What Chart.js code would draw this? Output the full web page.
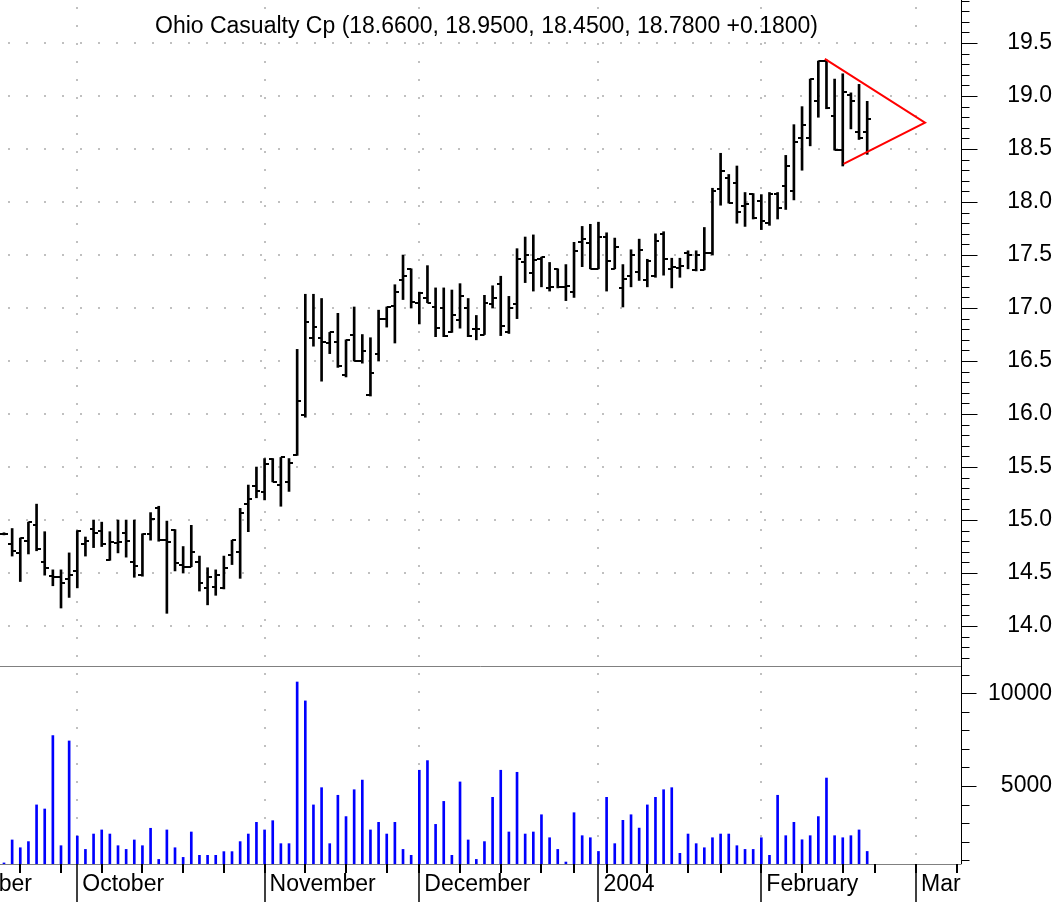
<!DOCTYPE html>
<html>
<head>
<meta charset="utf-8">
<script src="https://cdn.jsdelivr.net/npm/chart.js@4.4.1/dist/chart.umd.min.js"></script>
<style>
  html, body { margin: 0; padding: 0; background: #fff; }
</style>
</head>
<body>
<canvas id="ohlcChart" width="1061" height="902"></canvas>
<script>
// Daily bars for Ohio Casualty Cp, index 0 = 2003-09-18 (trading days)
const titleText = 'Ohio Casualty Cp (18.6600, 18.9500, 18.4500, 18.7800 +0.1800)';

const monthStarts = [-11, 9, 32, 51, 73, 93, 112];
const monthLabels = ['September', 'October', 'November', 'December', '2004', 'February', 'Mar'];
const weekStarts = [2, 7, 12, 17, 22, 27, 32, 37, 42, 47, 51, 56, 61, 66, 70, 74, 79, 84, 88, 93, 98, 103, 107, 112, 117];

const priceTicks = [14.0, 14.5, 15.0, 15.5, 16.0, 16.5, 17.0, 17.5, 18.0, 18.5, 19.0, 19.5];
const volumeTicks = [5000, 10000];

const opens = [
  14.87, 14.77, 14.69, 14.80, 14.95, 14.60, 14.47, 14.46, 14.44, 14.52,
  14.77, 14.92, 14.90, 14.62, 14.78, 14.88, 14.60, 14.48, 14.87, 15.11,
  14.81, 14.91, 14.58, 14.56, 14.60, 14.36, 14.37, 14.36, 14.67, 14.70,
  15.15, 15.32, 15.26, 15.58, 15.33, 15.36, 15.61, 15.99, 16.72, 16.72,
  16.67, 16.68, 16.37, 16.75, 16.50, 16.18, 16.57, 16.90, 17.02, 17.26,
  17.37, 17.05, 17.09, 17.01, 17.00, 16.77, 16.89, 17.00, 16.80, 16.75,
  17.04, 17.23, 16.77, 17.04, 17.43, 17.33, 17.46, 17.19, 17.37, 17.20,
  17.15, 17.62, 17.61, 17.37, 17.67, 17.37, 17.19, 17.30, 17.34, 17.26,
  17.30, 17.70, 17.37, 17.38, 17.52, 17.36, 17.36, 17.52, 18.12, 18.23,
  18.18, 17.96, 18.08, 18.01, 17.80, 18.08, 18.15, 18.10, 18.60, 18.60,
  18.95, 19.33, 18.81, 18.49, 19.01, 18.66, 18.66
];
const highs = [
  14.88, 14.92, 14.83, 14.98, 15.15, 14.89, 14.53, 14.53, 14.69, 14.90,
  14.84, 15.00, 14.98, 14.89, 15.00, 15.00, 15.00, 14.87, 15.07, 15.13,
  14.99, 14.91, 14.75, 14.95, 14.66, 14.55, 14.53, 14.66, 14.81, 15.11,
  15.33, 15.50, 15.58, 15.58, 15.59, 15.58, 16.61, 17.13, 17.13, 17.09,
  16.77, 16.95, 16.70, 17.01, 16.75, 16.72, 16.98, 17.01, 17.22, 17.50,
  17.37, 17.15, 17.40, 17.19, 17.19, 17.17, 17.23, 17.09, 16.93, 17.12,
  17.21, 17.30, 17.11, 17.56, 17.67, 17.69, 17.48, 17.43, 17.37, 17.41,
  17.62, 17.77, 17.79, 17.81, 17.71, 17.66, 17.41, 17.55, 17.65, 17.46,
  17.70, 17.72, 17.47, 17.47, 17.54, 17.54, 17.76, 18.13, 18.46, 18.26,
  18.34, 18.09, 18.08, 18.07, 18.09, 18.09, 18.44, 18.73, 18.90, 19.16,
  19.33, 19.34, 19.16, 19.21, 19.03, 19.11, 18.95
];
const lows = [
  14.86, 14.66, 14.42, 14.68, 14.71, 14.48, 14.38, 14.17, 14.27, 14.36,
  14.66, 14.74, 14.75, 14.62, 14.69, 14.65, 14.46, 14.47, 14.81, 14.80,
  14.12, 14.52, 14.50, 14.56, 14.33, 14.20, 14.29, 14.35, 14.58, 14.45,
  14.89, 15.21, 15.19, 15.36, 15.13, 15.27, 15.61, 15.97, 16.64, 16.31,
  16.57, 16.44, 16.35, 16.50, 16.48, 16.17, 16.50, 16.82, 16.67, 17.08,
  17.00, 16.85, 17.05, 16.73, 16.73, 16.77, 16.81, 16.73, 16.70, 16.75,
  17.00, 16.74, 16.76, 16.90, 17.24, 17.16, 17.20, 17.16, 17.19, 17.07,
  17.10, 17.39, 17.37, 17.37, 17.16, 17.37, 17.01, 17.20, 17.26, 17.20,
  17.29, 17.31, 17.19, 17.29, 17.37, 17.35, 17.36, 17.50, 17.97, 17.99,
  17.80, 17.77, 17.84, 17.74, 17.78, 17.84, 17.93, 18.02, 18.30, 18.53,
  18.80, 18.88, 18.49, 18.34, 18.69, 18.59, 18.45
];
const closes = [
  14.87, 14.71, 14.83, 14.98, 14.73, 14.55, 14.46, 14.41, 14.48, 14.90,
  14.80, 14.88, 14.77, 14.79, 14.79, 14.80, 14.57, 14.87, 15.01, 14.81,
  14.79, 14.59, 14.56, 14.70, 14.41, 14.46, 14.48, 14.55, 14.81, 15.07,
  15.20, 15.27, 15.53, 15.36, 15.59, 15.54, 16.12, 16.87, 16.82, 16.68,
  16.77, 16.45, 16.70, 16.50, 16.59, 16.39, 16.90, 17.01, 17.15, 17.30,
  17.06, 17.14, 17.05, 16.81, 16.74, 16.93, 17.11, 16.74, 16.80, 17.05,
  17.09, 16.83, 17.00, 17.46, 17.50, 17.45, 17.48, 17.20, 17.20, 17.21,
  17.54, 17.65, 17.37, 17.67, 17.44, 17.58, 17.27, 17.50, 17.55, 17.44,
  17.63, 17.46, 17.39, 17.40, 17.50, 17.50, 17.52, 18.10, 18.29, 17.99,
  17.91, 17.98, 17.85, 17.82, 18.08, 17.94, 18.34, 18.57, 18.73, 19.16,
  19.33, 18.89, 18.49, 19.04, 18.95, 18.60, 18.78
];
const volumes = [
  850, 2090, 1670, 2000, 3980, 3760, 7720, 1780, 7430, 2300,
  1580, 2410, 2630, 2410, 1780, 1580, 2090, 1780, 2720, 1040,
  2630, 1670, 1150, 2520, 1260, 1260, 1260, 1460, 1460, 2000,
  2410, 3040, 2630, 3130, 1890, 1890, 10610, 9590, 3980, 4910,
  1890, 4500, 3350, 4800, 5320, 2630, 3040, 2410, 3040, 1580,
  1260, 5850, 6370, 2930, 4170, 1260, 5220, 2090, 1040, 2000,
  4390, 5850, 2520, 5740, 2410, 2520, 3450, 2210, 1580, 900,
  3560, 2320, 2210, 1470, 4390, 1890, 3150, 3450, 2730, 3980,
  4390, 4800, 4910, 1370, 2410, 1890, 1670, 2210, 2410, 2410,
  1780, 1580, 1580, 2210, 1260, 4500, 2320, 3040, 2100, 2320,
  3350, 5430, 2320, 2210, 2320, 2630, 1470
];

// symmetrical triangle drawn over the last bars
const triangleX = [100.8, 113.1, 103.1];
const triangleY = [19.35, 18.75, 18.36];

const fontFamily = "'Liberation Sans', Arial, sans-serif";
Chart.defaults.font.family = fontFamily;

// small horizontal ticks for open (left) and close (right)
function makeTick(side) {
  const c = document.createElement('canvas');
  c.width = 8;
  c.height = 2;
  const g = c.getContext('2d');
  g.fillStyle = '#000';
  g.fillRect(side === 'left' ? 0 : 4, 0, 4, 2);
  return c;
}

const dayIdx = opens.map((_, i) => i);

// keep the plot flush with the canvas edges
function noPadding(s) {
  s.paddingLeft = 0;
  s.paddingRight = 0;
  s.paddingTop = 0;
  s.paddingBottom = 0;
}

// axis lines, minor ticks, pane separator and caption
const axisDecor = {
  id: 'axisDecor',
  afterDraw(chart) {
    const { ctx, chartArea: area, scales } = chart;
    const x = scales.x, price = scales.price, vol = scales.vol;
    const ax = Math.round(area.right) + 0.5;
    const seg = (x1, y1, x2, y2) => { ctx.beginPath(); ctx.moveTo(x1, y1); ctx.lineTo(x2, y2); ctx.stroke(); };

    ctx.save();
    ctx.strokeStyle = '#808080';
    ctx.lineWidth = 1;
    seg(area.left, Math.round(price.bottom) + 0.5, ax, Math.round(price.bottom) + 0.5);
    seg(area.left, Math.round(area.bottom) + 0.5, ax, Math.round(area.bottom) + 0.5);

    ctx.strokeStyle = '#000';
    seg(ax, area.top, ax, area.bottom);
    for (let k = Math.ceil(price.min * 10); k <= Math.floor(price.max * 10); k++) {
      const y = Math.round(price.getPixelForValue(k / 10)) + 0.5;
      seg(ax, y, ax + (k % 5 === 0 ? 16 : 8), y);
    }
    for (let v = 1000; v <= vol.max; v += 1000) {
      const y = Math.round(vol.getPixelForValue(v)) + 0.5;
      seg(ax, y, ax + (v % 5000 === 0 ? 15 : 8), y);
    }

    ctx.lineWidth = 2;
    weekStarts.forEach(d => {
      const px = Math.round(x.getPixelForValue(d));
      seg(px, area.bottom, px, area.bottom + 9);
    });
    ctx.lineWidth = 1.5;
    monthStarts.forEach(d => {
      const px = Math.round(x.getPixelForValue(d));
      seg(px, area.bottom, px, chart.height);
    });

    ctx.fillStyle = '#000';
    ctx.font = '23px ' + fontFamily;
    ctx.textAlign = 'center';
    ctx.textBaseline = 'middle';
    ctx.fillText(titleText, (area.left + area.right) / 2 + 6, 27);
    ctx.restore();
  }
};

new Chart(document.getElementById('ohlcChart'), {
  type: 'bar',
  data: {
    datasets: [
      {
        type: 'line',
        label: 'Triangle',
        data: triangleX.map((v, i) => ({ x: v, y: triangleY[i] })),
        yAxisID: 'price',
        borderColor: '#ff0000',
        borderWidth: 2,
        pointRadius: 0,
        fill: false,
        tension: 0,
        order: 0
      },
      {
        type: 'scatter',
        label: 'Open',
        data: dayIdx.map(i => ({ x: i, y: opens[i] })),
        yAxisID: 'price',
        pointStyle: makeTick('left'),
        pointRadius: 3,
        order: 1
      },
      {
        type: 'scatter',
        label: 'Close',
        data: dayIdx.map(i => ({ x: i, y: closes[i] })),
        yAxisID: 'price',
        pointStyle: makeTick('right'),
        pointRadius: 3,
        order: 1
      },
      {
        type: 'bar',
        label: 'High-Low',
        data: dayIdx.map(i => ({ x: i, y: [lows[i], highs[i]] })),
        yAxisID: 'price',
        backgroundColor: '#000',
        barThickness: 2,
        grouped: false,
        order: 2
      },
      {
        type: 'bar',
        label: 'Volume',
        data: dayIdx.map(i => ({ x: i, y: volumes[i] })),
        yAxisID: 'vol',
        backgroundColor: '#0000ff',
        barThickness: 2,
        grouped: false,
        order: 2
      }
    ]
  },
  options: {
    responsive: false,
    animation: false,
    events: [],
    layout: { padding: { left: 0, top: 0, bottom: 0, right: 9 }, autoPadding: false },
    plugins: {
      legend: { display: false },
      tooltip: { enabled: false }
    },
    scales: {
      x: {
        type: 'linear',
        min: -0.491,
        max: 117.52,
        offset: false,
        afterBuildTicks: s => { s.ticks = monthStarts.map(v => ({ value: v })); },
        afterFit: s => { s.height = 38; noPadding(s); },
        grid: { color: '#c0c0c0', lineWidth: 2, drawTicks: false, offset: false },
        border: { display: false, dash: [2, 16], dashOffset: 11 },
        ticks: {
          autoSkip: false,
          maxRotation: 0,
          minRotation: 0,
          align: 'start',
          labelOffset: 5,
          padding: 7,
          color: '#000',
          font: { size: 23 },
          callback: (v, i) => monthLabels[i]
        }
      },
      price: {
        type: 'linear',
        position: 'right',
        stack: 'panes',
        stackWeight: 666,
        min: 13.623,
        max: 19.906,
        afterBuildTicks: s => { s.ticks = priceTicks.map(v => ({ value: v })); },
        afterFit: s => { s.width = 91; noPadding(s); },
        grid: { color: '#c0c0c0', lineWidth: 2, drawTicks: false },
        border: { display: false, dash: [2, 16], dashOffset: 10 },
        ticks: {
          color: '#000',
          font: { size: 23 },
          padding: 20,
          crossAlign: 'far',
          callback: v => v.toFixed(1)
        }
      },
      vol: {
        type: 'linear',
        position: 'right',
        stack: 'panes',
        stackWeight: 198,
        min: 793,
        max: 11473,
        afterBuildTicks: s => { s.ticks = volumeTicks.map(v => ({ value: v })); },
        afterFit: s => { s.width = 91; noPadding(s); },
        grid: { display: false, drawTicks: false },
        border: { display: false },
        ticks: {
          color: '#000',
          font: { size: 23 },
          padding: 20,
          crossAlign: 'far',
          callback: v => String(v)
        }
      }
    }
  },
  plugins: [axisDecor]
});
</script>
</body>
</html>
